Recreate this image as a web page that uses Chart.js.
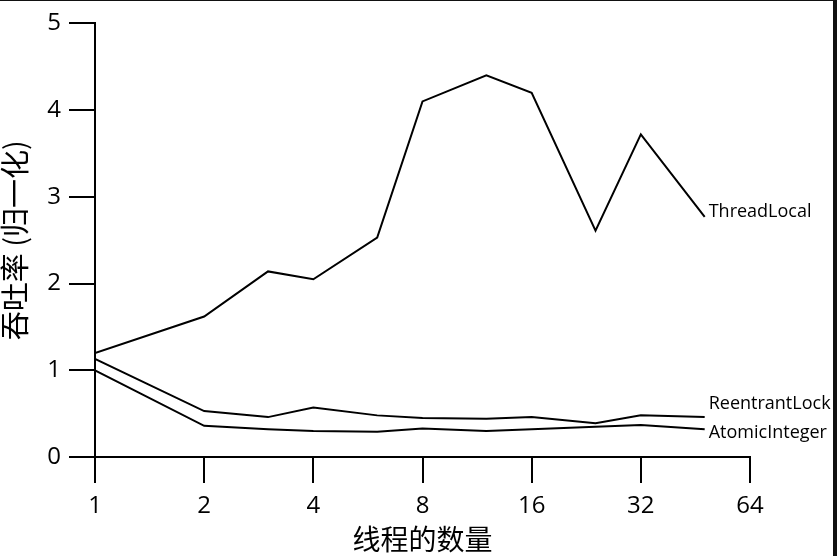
<!DOCTYPE html>
<html>
<head>
<meta charset="utf-8">
<script src="https://cdn.jsdelivr.net/npm/chart.js@4"></script>
<style>
  html, body { margin: 0; padding: 0; background: #111; }
  #wrap { position: absolute; left: 0; top: 1px; width: 833px; height: 555px; background: #fff; }
</style>
</head>
<body>
<div id="wrap"><canvas id="chart" width="833" height="555"></canvas></div>
<script>
// datos
const threads = [1, 2, 3, 4, 6, 8, 12, 16, 24, 32, 48];
const threadLocal = [1.2, 1.62, 2.14, 2.05, 2.53, 4.1, 4.4, 4.2, 2.61, 3.72, 2.77];
const reentrantLock = [1.13, 0.53, 0.46, 0.57, 0.48, 0.45, 0.44, 0.46, 0.39, 0.48, 0.46];
const atomicInteger = [1.0, 0.36, 0.32, 0.30, 0.29, 0.33, 0.30, 0.32, 0.35, 0.37, 0.32];
const seriesNames = ["ThreadLocal", "ReentrantLock", "AtomicInteger"];
const xTicks = [1, 2, 4, 8, 16, 32, 64];
const yTicks = [0, 1, 2, 3, 4, 5];

const tickFont = { family: "Open Sans", size: 24 };

function toPoints(values) {
  return values.map((v, i) => ({ x: threads[i], y: v }));
}

// etiquetas al final de cada línea
const labelOffsets = [[4, -5], [4, -13], [4, 4]];
const endLabels = {
  id: "endLabels",
  afterDatasetsDraw(chart) {
    const ctx = chart.ctx;
    ctx.save();
    ctx.font = "18px 'Open Sans'";
    ctx.fillStyle = "#000";
    ctx.textBaseline = "middle";
    ctx.textAlign = "left";
    chart.data.datasets.forEach((ds, i) => {
      const pts = chart.getDatasetMeta(i).data;
      const last = pts[pts.length - 1];
      ctx.fillText(ds.label, last.x + labelOffsets[i][0], last.y + labelOffsets[i][1]);
    });
    ctx.restore();
  }
};

new Chart(document.getElementById("chart"), {
  type: "line",
  data: {
    datasets: [threadLocal, reentrantLock, atomicInteger].map((vals, i) => ({
      label: seriesNames[i],
      data: toPoints(vals),
      borderColor: "#000",
      borderWidth: 2,
      pointRadius: 0,
      tension: 0,
      fill: false
    }))
  },
  options: {
    responsive: false,
    animation: false,
    layout: { padding: { top: 21, right: 83, left: 0, bottom: 0 } },
    plugins: { legend: { display: false }, tooltip: { enabled: false } },
    scales: {
      x: {
        type: "logarithmic",
        min: 1,
        max: 64,
        afterBuildTicks(scale) { scale.ticks = xTicks.map(v => ({ value: v })); },
        afterFit(scale) { scale.height = 99; },
        ticks: { color: "#000", font: tickFont, padding: 9, maxRotation: 0, callback: v => String(v) },
        grid: { drawOnChartArea: false, drawTicks: true, tickLength: 26, color: "#000", lineWidth: 2 },
        border: { display: true, color: "#000", width: 2 },
        title: { display: true, text: "线程的数量", color: "#000",
                 font: { family: "Noto Sans CJK SC", size: 28, lineHeight: 1 }, padding: { top: 0, bottom: 3 } }
      },
      y: {
        min: 0,
        max: 5,
        afterBuildTicks(scale) { scale.ticks = yTicks.map(v => ({ value: v })); },
        afterFit(scale) { scale.width = 95; },
        ticks: { color: "#000", font: tickFont, padding: 8 },
        grid: { drawOnChartArea: false, drawTicks: true, tickLength: 26, color: "#000", lineWidth: 2 },
        border: { display: true, color: "#000", width: 2 },
        title: { display: true, text: "吞吐率 (归一化)", color: "#000",
                 font: { family: "Noto Sans CJK SC", size: 29, lineHeight: 1 }, padding: { top: 0, bottom: 0 } }
      }
    }
  },
  plugins: [endLabels]
});
</script>
</body>
</html>
